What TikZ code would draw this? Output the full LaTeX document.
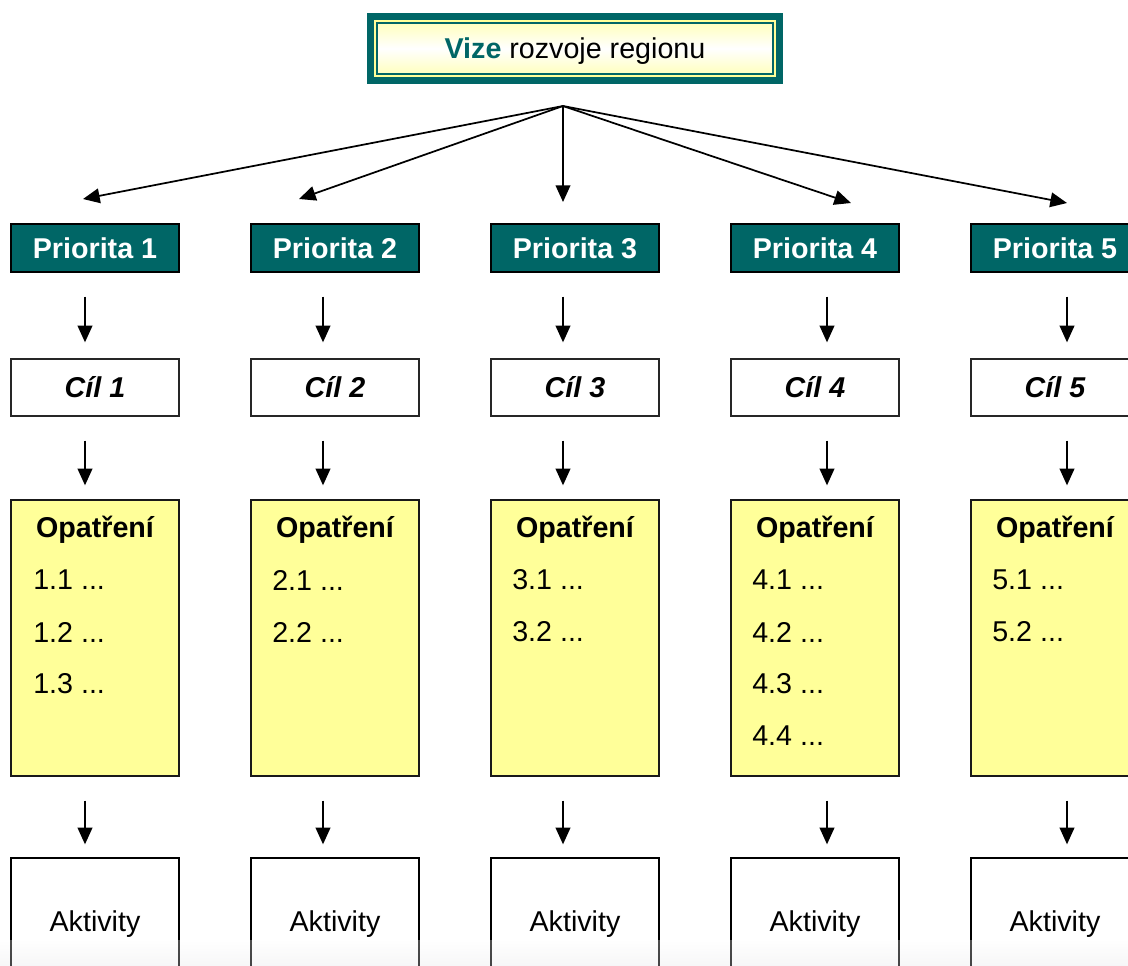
\documentclass[tikz,border=0pt]{standalone}
\usepackage{fontspec}
\setmainfont{Liberation Sans}
\usetikzlibrary{arrows.meta}
\definecolor{vizegreen}{RGB}{0,102,102}
\definecolor{opayellow}{RGB}{255,255,153}
\definecolor{vizeyellow}{RGB}{255,255,190}

\begin{document}
\begin{tikzpicture}[x=0.75pt, y=-0.75pt,
	prio/.style = {draw=black, line width=1pt, fill=vizegreen, text=white, minimum width=126pt, minimum height=36pt, inner sep=0pt, font=\fontsize{21.5pt}{26pt}\selectfont\bfseries},
	cil/.style = {draw=black!85, line width=1pt, fill=white, minimum width=126pt, minimum height=42.75pt, inner sep=0pt, font=\fontsize{21.5pt}{26pt}\selectfont\bfseries\itshape},
	opa/.style = {draw=black!90, line width=1pt, fill=opayellow, minimum width=126pt, minimum height=207pt, inner sep=0pt},
	akt/.style = {draw=black, line width=1pt, fill=white, minimum width=126pt, minimum height=99pt, inner sep=0pt, font=\fontsize{21.5pt}{26pt}\selectfont},
	head/.style = {inner sep=0pt, font=\fontsize{21.5pt}{26pt}\selectfont\bfseries},
	item/.style = {anchor=west, inner sep=0pt, font=\fontsize{21.5pt}{26pt}\selectfont},
	arr/.style = {-{Triangle[length=12.5pt,width=11pt]}, line width=1.3pt}]
				\useasboundingbox (0,0) rectangle (1128,965);
				\clip (0,0) rectangle (1128,965);
				% vision box
				\fill[vizegreen] (367,13) rectangle (783,84);
				\fill[opayellow] (374,20) rectangle (776,77);
				\shade[top color=vizeyellow, bottom color=vizeyellow, middle color=white, draw=vizegreen, line width=1pt] (377,23) rectangle (773,74);
				\node[inner sep=0pt, font=\fontsize{21.5pt}{26pt}\selectfont] (vize) at (575,51) {\textcolor{vizegreen}{\bfseries Vize} rozvoje regionu};
				% priorities
				\node[prio] (p1) at (95,248) {Priorita 1};
				\node[prio] (p2) at (335,248) {Priorita 2};
				\node[prio] (p3) at (575,248) {Priorita 3};
				\node[prio] (p4) at (815,248) {Priorita 4};
				\node[prio] (p5) at (1055,248) {Priorita 5};
				\coordinate (apex) at (563,106);
				\coordinate (t1) at (83,199);
				\coordinate (t2) at (299,199);
				\coordinate (t3) at (563,202);
				\coordinate (t4) at (851,203);
				\coordinate (t5) at (1067,203);
				\draw[arr] (apex) -- (t1);
				\draw[arr] (apex) -- (t2);
				\draw[arr] (apex) -- (t3);
				\draw[arr] (apex) -- (t4);
				\draw[arr] (apex) -- (t5);
				% goals
				\node[cil] (c1) at (95,387.5) {Cíl 1};
				\node[cil] (c2) at (335,387.5) {Cíl 2};
				\node[cil] (c3) at (575,387.5) {Cíl 3};
				\node[cil] (c4) at (815,387.5) {Cíl 4};
				\node[cil] (c5) at (1055,387.5) {Cíl 5};
				% measures
				\node[opa] (o1) at (95,638) {};
				\node[opa] (o2) at (335,638) {};
				\node[opa] (o3) at (575,638) {};
				\node[opa] (o4) at (815,638) {};
				\node[opa] (o5) at (1055,638) {};
				\node[head] (h1) at (95,530) {Opatření};
				\node[head] (h2) at (335,530) {Opatření};
				\node[head] (h3) at (575,530) {Opatření};
				\node[head] (h4) at (815,530) {Opatření};
				\node[head] (h5) at (1055,530) {Opatření};
				\node[item] (m11) at (33,580) {1.1 ...};
				\node[item] (m12) at (33,632) {1.2 ...};
				\node[item] (m13) at (33,684) {1.3 ...};
				\node[item] (m21) at (272,580) {2.1 ...};
				\node[item] (m22) at (272,632) {2.2 ...};
				\node[item] (m31) at (512,580) {3.1 ...};
				\node[item] (m32) at (512,632) {3.2 ...};
				\node[item] (m41) at (752,580) {4.1 ...};
				\node[item] (m42) at (752,632) {4.2 ...};
				\node[item] (m43) at (752,684) {4.3 ...};
				\node[item] (m44) at (752,736) {4.4 ...};
				\node[item] (m51) at (992,580) {5.1 ...};
				\node[item] (m52) at (992,632) {5.2 ...};
				% activities
				\node[akt] (a1) at (95,924) {Aktivity};
				\node[akt] (a2) at (335,924) {Aktivity};
				\node[akt] (a3) at (575,924) {Aktivity};
				\node[akt] (a4) at (815,924) {Aktivity};
				\node[akt] (a5) at (1055,924) {Aktivity};
				% vertical arrows
				\draw[arr] ([xshift=-7.5pt, yshift=-18pt]p1.south) -- ([xshift=-7.5pt, yshift=12pt]c1.north);
				\draw[arr] ([xshift=-9pt, yshift=-18pt]p2.south) -- ([xshift=-9pt, yshift=12pt]c2.north);
				\draw[arr] ([xshift=-9pt, yshift=-18pt]p3.south) -- ([xshift=-9pt, yshift=12pt]c3.north);
				\draw[arr] ([xshift=9pt, yshift=-18pt]p4.south) -- ([xshift=9pt, yshift=12pt]c4.north);
				\draw[arr] ([xshift=9pt, yshift=-18pt]p5.south) -- ([xshift=9pt, yshift=12pt]c5.north);
				\draw[arr] ([xshift=-7.5pt, yshift=-18pt]c1.south) -- ([xshift=-7.5pt, yshift=10.5pt]o1.north);
				\draw[arr] ([xshift=-9pt, yshift=-18pt]c2.south) -- ([xshift=-9pt, yshift=10.5pt]o2.north);
				\draw[arr] ([xshift=-9pt, yshift=-18pt]c3.south) -- ([xshift=-9pt, yshift=10.5pt]o3.north);
				\draw[arr] ([xshift=9pt, yshift=-18pt]c4.south) -- ([xshift=9pt, yshift=10.5pt]o4.north);
				\draw[arr] ([xshift=9pt, yshift=-18pt]c5.south) -- ([xshift=9pt, yshift=10.5pt]o5.north);
				\draw[arr] ([xshift=-7.5pt, yshift=-18pt]o1.south) -- ([xshift=-7.5pt, yshift=9.75pt]a1.north);
				\draw[arr] ([xshift=-9pt, yshift=-18pt]o2.south) -- ([xshift=-9pt, yshift=9.75pt]a2.north);
				\draw[arr] ([xshift=-9pt, yshift=-18pt]o3.south) -- ([xshift=-9pt, yshift=9.75pt]a3.north);
				\draw[arr] ([xshift=9pt, yshift=-18pt]o4.south) -- ([xshift=9pt, yshift=9.75pt]a4.north);
				\draw[arr] ([xshift=9pt, yshift=-18pt]o5.south) -- ([xshift=9pt, yshift=9.75pt]a5.north);
				% faded lower edge
				\shade[top color=white, bottom color=blue!4!gray!20, opacity=0.3] (0,940) rectangle (1128,965);
			\end{tikzpicture}
\end{document}
